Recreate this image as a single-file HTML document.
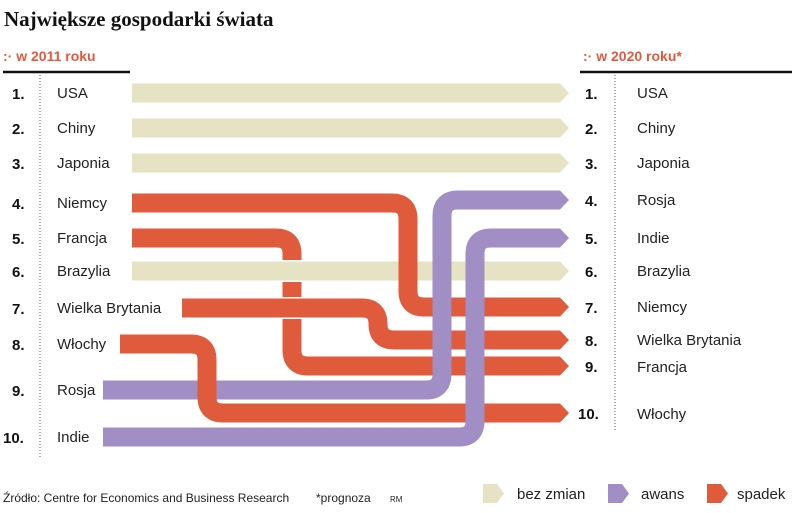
<!DOCTYPE html>
<html><head><meta charset="utf-8"><style>
body{margin:0;background:#fff;}
svg{display:block;font-family:"Liberation Sans",sans-serif;}
.rank{font-weight:bold;font-size:15px;fill:#111;}
.name{font-size:15px;fill:#222;}
</style></head><body>
<svg id="chart" width="805" height="513" viewBox="0 0 805 513">
<text x="4" y="26" font-family="Liberation Serif,serif" font-weight="bold" font-size="21" fill="#111">Największe gospodarki świata</text>
<text x="3" y="61" font-size="14" font-weight="bold" fill="#e05a3c">:· w 2011 roku</text>
<text x="583" y="61" font-size="14" font-weight="bold" fill="#e05a3c">:· w 2020 roku*</text>
<line x1="3" y1="72" x2="130" y2="72" stroke="#111" stroke-width="2.5"/>
<line x1="580" y1="72" x2="792" y2="72" stroke="#111" stroke-width="2.5"/>
<line x1="40" y1="75" x2="40" y2="458" stroke="#555" stroke-width="1" stroke-dasharray="1,2"/>
<line x1="615" y1="75" x2="615" y2="430" stroke="#555" stroke-width="1" stroke-dasharray="1,2"/>
<g id="bands"></g>
<g id="labels"></g>
<text x="3" y="502" font-size="12" fill="#222">Źródło: Centre for Economics and Business Research</text>
<text x="316" y="502" font-size="12" fill="#222">*prognoza</text>
<text x="390" y="502" font-size="8" fill="#222">RM</text>
<g>
<path d="M483 484 H497 L504 493.5 L497 503 H483 Z" fill="#e6e2c4"/>
<text x="517" y="499" font-size="15" fill="#222">bez zmian</text>
<path d="M608 484 H622 L629 493.5 L622 503 H608 Z" fill="#a08ec4"/>
<text x="641" y="499" font-size="15" fill="#222">awans</text>
<path d="M707 484 H721 L728 493.5 L721 503 H707 Z" fill="#e05a3c"/>
<text x="737" y="499" font-size="15" fill="#222">spadek</text>
</g>
</svg>
<script>
const countries2011=["USA","Chiny","Japonia","Niemcy","Francja","Brazylia","Wielka Brytania","Włochy","Rosja","Indie"];
const countries2020=["USA","Chiny","Japonia","Rosja","Indie","Brazylia","Niemcy","Wielka Brytania","Francja","Włochy"];
const rankLabels=["1.","2.","3.","4.","5.","6.","7.","8.","9.","10."];
// drawing order (back to front)
const drawOrder=["USA","Chiny","Japonia","Francja","Brazylia","Wielka Brytania","Niemcy","Rosja","Włochy","Indie"];
const outlined=["Brazylia","Wielka Brytania"];

const leftY=[93,128,163,203,238,271,308,344,390,437];
const rightY=[93,128,163,200,238,271,307,340,366,413];
const startX={"USA":132,"Chiny":132,"Japonia":132,"Niemcy":132,"Francja":132,"Brazylia":132,"Wielka Brytania":182,"Włochy":120,"Rosja":103,"Indie":103};
const turnX={"Niemcy":408,"Francja":292,"Wielka Brytania":378,"Włochy":207,"Rosja":442,"Indie":475};
const COL={same:"#e6e2c4",up:"#a08ec4",down:"#e05a3c"};
const NS="http://www.w3.org/2000/svg";
const bands=document.getElementById("bands"),labels=document.getElementById("labels");
const W=19,END=560,TIP=569;
function slug(s){return s.toLowerCase().replace(/ł/g,"l").replace(/\s+/g,"-");}
drawOrder.forEach(c=>{
  const a=countries2011.indexOf(c),b=countries2020.indexOf(c);
  const y1=leftY[a],y2=rightY[b];
  const col=b===a?COL.same:(b<a?COL.up:COL.down);
  let d;
  if(Math.abs(y1-y2)<1){d=`M${startX[c]} ${y1} H${END}`;}
  else{
    const x=turnX[c],s=y2>y1?1:-1,r=Math.min(16,Math.abs(y2-y1)/2);
    d=`M${startX[c]} ${y1} H${x-r} Q${x} ${y1} ${x} ${y1+s*r} V${y2-s*r} Q${x} ${y2} ${x+r} ${y2} H${END}`;
  }
  const g=document.createElementNS(NS,"g");
  
  
  if(outlined.indexOf(c)>=0){
    const o=document.createElementNS(NS,"path");
    o.setAttribute("d",d);o.setAttribute("fill","none");o.setAttribute("stroke","#fff");o.setAttribute("stroke-width",W+3);
    
    
    g.appendChild(o);
  }
  const p=document.createElementNS(NS,"path");
  p.setAttribute("d",d);p.setAttribute("fill","none");p.setAttribute("stroke",col);p.setAttribute("stroke-width",W);
  
  
  const t=document.createElementNS(NS,"path");
  t.setAttribute("d",`M${END-1} ${y2-W/2} L${END} ${y2-W/2} L${TIP} ${y2} L${END} ${y2+W/2} L${END-1} ${y2+W/2} Z`);
  t.setAttribute("fill",col);
  
  
  g.appendChild(p);g.appendChild(t);bands.appendChild(g);
});
function txt(x,y,s,cls,name){
  const t=document.createElementNS(NS,"text");
  t.setAttribute("x",x);t.setAttribute("y",y);t.setAttribute("class",cls);t.textContent=s;
  
  
  labels.appendChild(t);
}
countries2011.forEach((c,i)=>{
  txt(i===9?3:12,leftY[i]+6,rankLabels[i],"rank","left-rank-"+(i+1));
  txt(57,leftY[i]+5,c,"name","left-name-"+slug(c));
});
countries2020.forEach((c,i)=>{
  txt(i===9?578:585,rightY[i]+6,rankLabels[i],"rank","right-rank-"+(i+1));
  txt(637,(i===8?372:i===9?419:rightY[i]+5),c,"name","right-name-"+slug(c));
});
</script>
</body></html>
